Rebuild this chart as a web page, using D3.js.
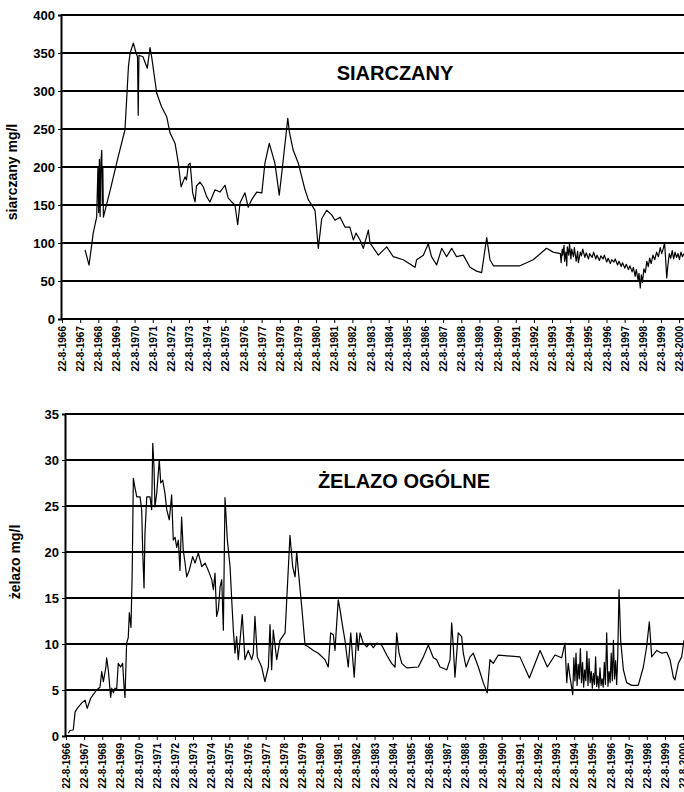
<!DOCTYPE html>
<meta charset="utf-8">
<head>
  <title>Siarczany i żelazo</title>
  <style>
    body { margin: 0; background: #fff; }
    svg { display: block; }
    text { font-family: "Liberation Sans", Arial, sans-serif; fill: #000; }
  </style>
</head>
<body>
<script src="https://d3js.org/d3.v7.min.js"></script>
<script>
var WIDTH = 684,
    HEIGHT = 792;

// tick years, labels are "22-8-YYYY"
var tickYears = d3.range(1966, 2001);
var sulfateTicks = [0, 50, 100, 150, 200, 250, 300, 350, 400];
var ironTicks = [0, 5, 10, 15, 20, 25, 30, 35];

// siarczany mg/l  [decimal year, value]
var sulfate = [
  [1967.91, 91], [1968.13, 71], [1968.36, 113], [1968.55, 134], [1968.62, 200], [1968.66, 140],
  [1968.70, 210], [1968.74, 135], [1968.78, 205], [1968.83, 222], [1968.86, 150], [1968.89, 200],
  [1968.92, 134], [1969.30, 170], [1969.70, 210], [1970.11, 249], [1970.30, 332], [1970.39, 350],
  [1970.57, 363], [1970.72, 350], [1970.80, 345], [1970.84, 268], [1970.88, 347], [1971.10, 345],
  [1971.34, 330], [1971.49, 357], [1971.58, 345], [1971.86, 297], [1972.13, 279], [1972.41, 266],
  [1972.59, 245], [1972.87, 231], [1973.05, 205], [1973.20, 174], [1973.42, 187], [1973.50, 183],
  [1973.60, 203], [1973.70, 205], [1973.84, 166], [1973.97, 154], [1974.05, 175], [1974.24, 180],
  [1974.42, 174], [1974.61, 161], [1974.79, 154], [1975.07, 170], [1975.34, 167], [1975.62, 176],
  [1975.80, 159], [1975.99, 154], [1976.17, 150], [1976.32, 124], [1976.45, 153], [1976.72, 166],
  [1976.90, 147], [1977.09, 157], [1977.37, 167], [1977.65, 166], [1977.82, 205], [1978.06, 231],
  [1978.37, 205], [1978.61, 163], [1978.80, 203], [1979.08, 264], [1979.17, 246], [1979.38, 222],
  [1979.66, 205], [1980.03, 170], [1980.21, 157], [1980.58, 143], [1980.76, 93], [1980.95, 132],
  [1981.22, 143], [1981.50, 137], [1981.68, 130], [1981.96, 134], [1982.23, 121], [1982.50, 121],
  [1982.69, 104], [1982.84, 113], [1983.06, 104], [1983.24, 93], [1983.52, 117], [1983.61, 100],
  [1984.07, 84], [1984.53, 95], [1984.89, 82], [1985.44, 78], [1986.09, 68], [1986.18, 78],
  [1986.55, 84], [1986.82, 99], [1987.00, 82], [1987.28, 71], [1987.56, 93], [1987.83, 82],
  [1988.11, 93], [1988.38, 82], [1988.75, 84], [1989.12, 68], [1989.48, 63], [1989.76, 61],
  [1990.04, 107], [1990.22, 78], [1990.41, 70], [1991.87, 70], [1992.60, 78], [1993.34, 93],
  [1993.70, 88], [1994.10, 86], [1994.14, 74], [1994.20, 92], [1994.23, 84], [1994.30, 97],
  [1994.33, 76], [1994.40, 88], [1994.45, 70], [1994.48, 95], [1994.56, 84], [1994.60, 99],
  [1994.68, 79], [1994.72, 92], [1994.82, 82], [1994.87, 94], [1994.97, 76], [1995.05, 89],
  [1995.09, 74], [1995.20, 88], [1995.26, 83], [1995.33, 92], [1995.45, 81], [1995.52, 87],
  [1995.65, 79], [1995.71, 86], [1995.85, 81], [1995.93, 88], [1996.05, 79], [1996.12, 84],
  [1996.25, 77], [1996.33, 83], [1996.45, 79], [1996.52, 84], [1996.65, 75], [1996.73, 80],
  [1996.85, 73], [1996.93, 78], [1997.05, 75], [1997.12, 79], [1997.25, 71], [1997.33, 76],
  [1997.45, 69], [1997.52, 74], [1997.65, 67], [1997.73, 72], [1997.85, 65], [1997.93, 70],
  [1998.05, 62], [1998.12, 68], [1998.22, 56], [1998.28, 65], [1998.38, 51], [1998.43, 60],
  [1998.50, 41], [1998.56, 58], [1998.62, 48], [1998.70, 66], [1998.78, 61], [1998.86, 76],
  [1998.94, 69], [1999.02, 80], [1999.10, 73], [1999.20, 84], [1999.30, 78], [1999.40, 88],
  [1999.50, 82], [1999.60, 94], [1999.68, 86], [1999.76, 92], [1999.84, 100], [1999.90, 78],
  [1999.96, 54], [2000.02, 70], [2000.10, 86], [2000.18, 80], [2000.26, 90], [2000.34, 79],
  [2000.42, 88], [2000.50, 81], [2000.58, 86], [2000.66, 78], [2000.74, 88], [2000.82, 82],
  [2000.90, 86]
];

// żelazo ogólne mg/l  [decimal year, value]
var iron = [
  [1966.77, 0.3], [1966.86, 0.6], [1967.04, 0.65], [1967.14, 2.6], [1967.26, 3.0], [1967.51, 3.6],
  [1967.69, 3.9], [1967.81, 3.0], [1968.00, 4.1], [1968.14, 4.5], [1968.33, 5.0], [1968.51, 5.3],
  [1968.61, 7.0], [1968.70, 5.9], [1968.84, 7.5], [1968.88, 8.5], [1968.97, 7.2], [1969.10, 4.2],
  [1969.16, 5.2], [1969.25, 4.7], [1969.34, 5.2], [1969.43, 5.0], [1969.52, 7.9], [1969.65, 7.5],
  [1969.76, 7.9], [1969.84, 5.3], [1969.89, 4.2], [1969.98, 10.1], [1970.07, 10.7], [1970.13, 13.4],
  [1970.22, 11.8], [1970.29, 18], [1970.35, 28], [1970.44, 27], [1970.54, 26], [1970.72, 26],
  [1970.81, 24.6], [1970.87, 19.9], [1970.94, 16.1], [1970.99, 22], [1971.09, 26], [1971.27, 26],
  [1971.36, 24.6], [1971.42, 31.8], [1971.49, 29.2], [1971.54, 24.9], [1971.64, 26.4], [1971.78, 30],
  [1971.86, 27.5], [1971.97, 27.8], [1972.09, 26.4], [1972.19, 24.6], [1972.33, 23.5], [1972.46, 26.2],
  [1972.55, 21.3], [1972.65, 21.6], [1972.74, 20.5], [1972.83, 21.3], [1972.92, 18], [1973.01, 23.8],
  [1973.10, 20.2], [1973.20, 18.8], [1973.29, 17.3], [1973.43, 18], [1973.62, 19.5], [1973.75, 18.8],
  [1973.93, 19.9], [1974.12, 18.4], [1974.30, 18.8], [1974.48, 18], [1974.67, 17], [1974.76, 15.9],
  [1974.85, 17.7], [1974.94, 13], [1975.03, 13.7], [1975.13, 16.2], [1975.22, 17], [1975.31, 11.5],
  [1975.40, 25.9], [1975.53, 21.3], [1975.68, 18.4], [1975.77, 14.8], [1975.86, 11.5], [1975.95, 9.0],
  [1976.04, 10.8], [1976.13, 8.3], [1976.23, 10.4], [1976.35, 13.2], [1976.50, 8.3], [1976.68, 9.3],
  [1976.87, 8.3], [1976.96, 9.0], [1977.05, 13], [1977.18, 8.6], [1977.42, 7.5], [1977.60, 5.9],
  [1977.79, 7.5], [1977.88, 12.1], [1977.97, 7.2], [1978.06, 11.5], [1978.25, 8.3], [1978.43, 10.4],
  [1978.71, 11.2], [1978.83, 15.9], [1978.98, 21.8], [1979.13, 18.4], [1979.26, 17.3], [1979.35, 20],
  [1979.44, 18], [1979.63, 14], [1979.81, 9.9], [1979.99, 9.7], [1980.27, 9.3], [1980.54, 9.0],
  [1980.91, 8.3], [1981.09, 7.5], [1981.22, 11.2], [1981.37, 11], [1981.46, 9.3], [1981.52, 11.2],
  [1981.64, 14.8], [1981.74, 13.7], [1981.89, 11.8], [1982.01, 10.4], [1982.19, 7.5], [1982.33, 11.2],
  [1982.44, 8.3], [1982.52, 6.4], [1982.66, 11.2], [1982.74, 9.3], [1982.84, 11.2], [1983.02, 10.1],
  [1983.21, 9.7], [1983.39, 10.1], [1983.57, 9.6], [1983.76, 10.1], [1984.03, 9.9], [1984.31, 8.8],
  [1984.58, 7.9], [1984.77, 7.5], [1984.86, 11.2], [1984.99, 9.0], [1985.14, 7.9], [1985.41, 7.4],
  [1986.05, 7.5], [1986.33, 8.6], [1986.60, 9.9], [1986.88, 8.5], [1987.06, 8.3], [1987.25, 7.5],
  [1987.62, 7.2], [1987.80, 8.3], [1987.89, 12.3], [1987.98, 9.7], [1988.07, 6.4], [1988.25, 11.2],
  [1988.44, 10.8], [1988.53, 9.0], [1988.68, 7.5], [1988.90, 8.6], [1989.08, 9.0], [1989.36, 7.5],
  [1989.63, 5.8], [1989.85, 4.7], [1990.00, 8.3], [1990.18, 7.9], [1990.46, 8.8], [1991.65, 8.6],
  [1992.17, 6.3], [1992.76, 9.3], [1993.16, 7.5], [1993.58, 8.8], [1993.95, 8.5], [1994.13, 10.1],
  [1994.23, 5.8], [1994.31, 7.9], [1994.41, 6.4], [1994.56, 4.5], [1994.62, 8.5], [1994.68, 6.0],
  [1994.74, 9.0], [1994.80, 5.5], [1994.86, 7.8], [1994.92, 6.2], [1994.98, 9.5], [1995.04, 5.8],
  [1995.10, 8.0], [1995.16, 5.3], [1995.22, 7.2], [1995.28, 6.0], [1995.34, 9.2], [1995.40, 5.5],
  [1995.46, 8.4], [1995.52, 5.8], [1995.58, 7.0], [1995.64, 5.2], [1995.70, 6.8], [1995.76, 5.6],
  [1995.82, 8.6], [1995.88, 5.4], [1995.94, 6.5], [1996.00, 5.2], [1996.06, 7.4], [1996.12, 5.5],
  [1996.18, 6.2], [1996.24, 5.3], [1996.30, 8.0], [1996.36, 5.6], [1996.43, 11.2], [1996.50, 5.4],
  [1996.56, 7.0], [1996.62, 5.8], [1996.68, 9.0], [1996.74, 6.0], [1996.80, 10.4], [1996.86, 6.2],
  [1996.92, 8.2], [1996.98, 5.6], [1997.04, 8.8], [1997.11, 15.9], [1997.20, 10.4], [1997.35, 7.2],
  [1997.53, 5.8], [1997.81, 5.5], [1998.17, 5.5], [1998.45, 7.5], [1998.63, 9.7], [1998.78, 12.4],
  [1998.91, 8.6], [1999.19, 9.3], [1999.46, 9.0], [1999.74, 9.1], [1999.92, 8.3], [2000.10, 6.4],
  [2000.19, 6.1], [2000.38, 7.9], [2000.56, 8.6], [2000.69, 10.4]
];

var svg = d3.select("body").append("svg")
    .attr("width", WIDTH)
    .attr("height", HEIGHT);

function drawPanel(cfg) {
  var x = d3.scaleLinear()
      .domain([1966.64, 2000.64])
      .range([cfg.left + 1, cfg.left + 1 + 34 * 18.15]);
  var y = d3.scaleLinear()
      .domain([0, cfg.max])
      .range([cfg.bottom, cfg.top]);

  var g = svg.append("g");

  // grid lines
  g.selectAll("line.grid")
    .data(cfg.yTicks.filter(function(d) { return d > 0; }))
    .enter().append("line")
      .attr("class", "grid")
      .attr("x1", cfg.left)
      .attr("x2", WIDTH + 10)
      .attr("y1", function(d) { return y(d); })
      .attr("y2", function(d) { return y(d); })
      .attr("stroke", "#000")
      .attr("stroke-width", 2);

  // y axis
  var yAxis = g.append("g")
      .attr("transform", "translate(" + cfg.left + ",0)")
      .call(d3.axisLeft(y).tickValues(cfg.yTicks).tickSize(3).tickPadding(3));
  yAxis.select(".domain").attr("stroke-width", 2);
  yAxis.selectAll("text")
      .style("font-size", "13px")
      .style("font-weight", "bold");

  // x axis
  var xAxis = g.append("g")
      .attr("transform", "translate(0," + cfg.bottom + ")")
      .call(d3.axisBottom(x)
        .tickValues(tickYears.map(function(d) { return d + 0.64; }))
        .tickFormat(function(d) { return "22-8-" + Math.round(d - 0.64); })
        .tickSize(4)
        .tickSizeOuter(0));
  xAxis.select(".domain")
      .attr("d", "M" + cfg.left + ",0H" + (WIDTH + 10))
      .attr("stroke-width", 2);
  xAxis.selectAll("text")
      .attr("transform", "rotate(-90)")
      .attr("text-anchor", "end")
      .attr("x", -7)
      .attr("y", 0)
      .attr("dy", "0.35em")
      .style("font-size", "10px")
      .style("font-weight", "bold");

  // series
  var line = d3.line()
      .x(function(d) { return x(d[0]); })
      .y(function(d) { return y(d[1]); });

  g.append("path")
      .datum(cfg.data)
      .attr("fill", "none")
      .attr("stroke", "#000")
      .attr("stroke-width", 1.2)
      .attr("stroke-linejoin", "round")
      .attr("d", line);

  // titles
  g.append("text")
      .attr("x", cfg.titleX)
      .attr("y", cfg.titleY)
      .attr("text-anchor", "middle")
      .style("font-size", "20px")
      .style("font-weight", "bold")
      .text(cfg.title);

  g.append("text")
      .attr("transform", "translate(" + cfg.labelX + "," + cfg.labelY + ") rotate(-90)")
      .attr("text-anchor", "middle")
      .style("font-size", "14px")
      .style("font-weight", "bold")
      .text(cfg.label);
}

drawPanel({
  data: sulfate, max: 400, yTicks: sulfateTicks,
  left: 61, top: 15, bottom: 319,
  title: "SIARCZANY", titleX: 395, titleY: 80,
  label: "siarczany mg/l", labelX: 17, labelY: 172
});

drawPanel({
  data: iron, max: 35, yTicks: ironTicks,
  left: 65, top: 414, bottom: 736,
  title: "ŻELAZO OGÓLNE", titleX: 404, titleY: 488,
  label: "żelazo mg/l", labelX: 20, labelY: 562
});
</script>
</body>
